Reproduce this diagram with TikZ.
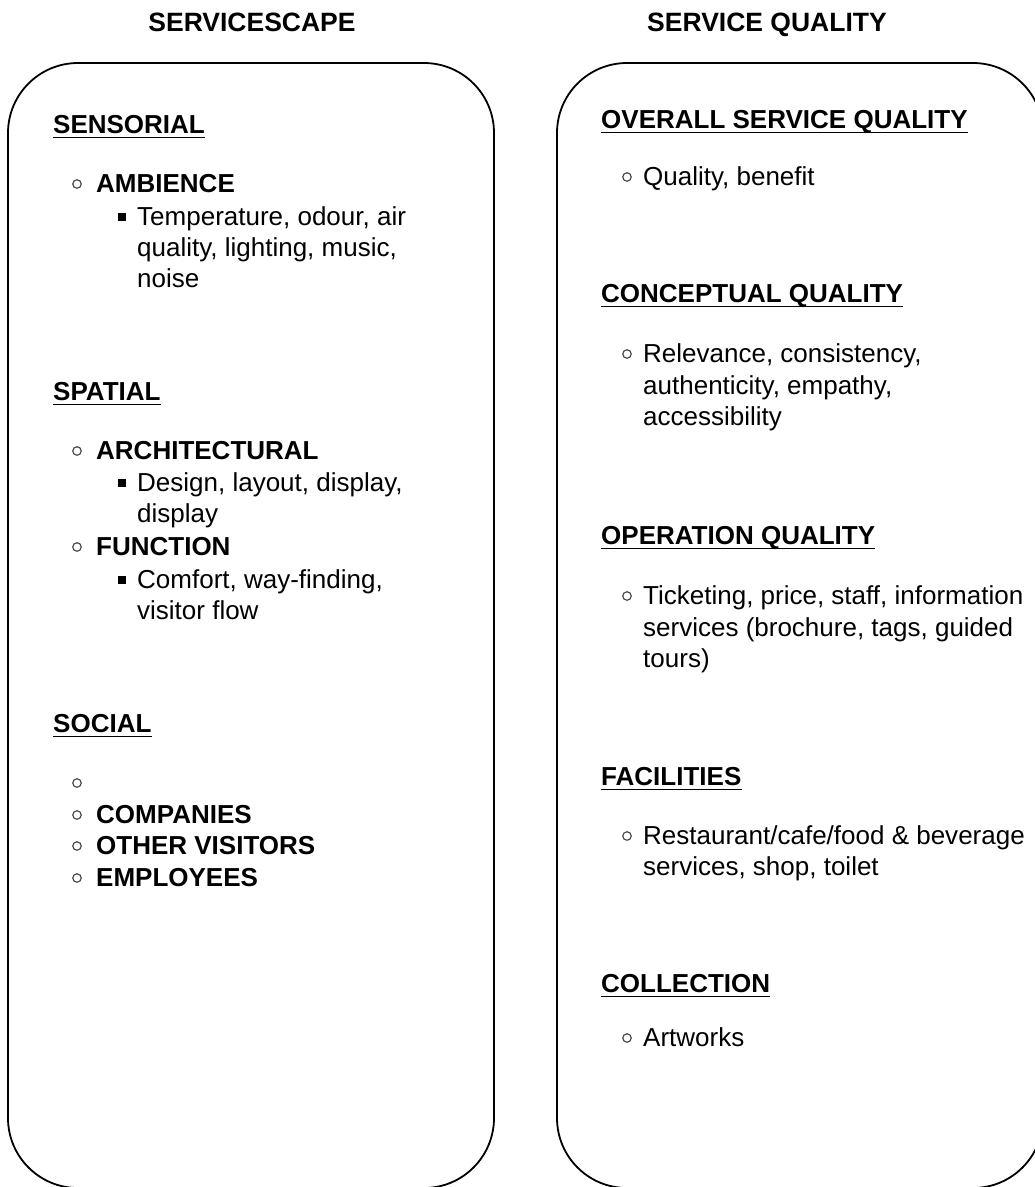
\documentclass[tikz,border=0pt]{standalone}
\usepackage{fontspec}
\setmainfont{Liberation Sans}
\begin{document}
\begin{tikzpicture}[x=1bp,y=-1bp,
  txt/.style={anchor=base west, inner sep=0pt, font=\fontsize{26bp}{31bp}\selectfont, text=black},
  hd/.style={anchor=base west, inner sep=0pt, font=\fontsize{26bp}{31bp}\selectfont\bfseries},
  ttl/.style={anchor=base, inner sep=0pt, font=\fontsize{26.5bp}{31bp}\selectfont\bfseries},
  panel/.style={draw, line width=1.8bp, rounded corners=70bp},
  ring/.style={draw=black!70, line width=1.2bp, circle, minimum size=8.5bp, inner sep=0pt},
  sq/.style={fill=black, minimum size=7.5bp, inner sep=0pt},
  uline/.style={line width=1.7bp}
]
\useasboundingbox (0,0) rectangle (1035,1187);
\clip (0,0) rectangle (1035,1187);

% panels
\draw[panel] (8,63) rectangle (494,1188);
\draw[panel] (557,63) rectangle (1043,1188);

% titles
\node[ttl] (t1) at (252,31) {SERVICESCAPE};
\node[ttl] (t2) at (767,31) {SERVICE QUALITY};

% ---------- left panel ----------
\node[hd] (h1) at (53,133) {SENSORIAL};
\draw[uline] ([yshift=-4.5bp]h1.base west) -- ([yshift=-4.5bp]h1.base east);
\node[ring] (b1) at (77,184) {};
\node[hd] (l1) at (96,192) {AMBIENCE};
\node[sq] (s1) at (122,217) {};
\node[txt] (l2) at (137,225) {Temperature, odour, air};
\node[txt] (l3) at (137,256) {quality, lighting, music,};
\node[txt] (l4) at (137,287) {noise};

\node[hd] (h2) at (53,400) {SPATIAL};
\draw[uline] ([yshift=-4.5bp]h2.base west) -- ([yshift=-4.5bp]h2.base east);
\node[ring] (b2) at (77,451) {};
\node[hd] (l5) at (96,459) {ARCHITECTURAL};
\node[sq] (s2) at (122,483) {};
\node[txt] (l6) at (137,491) {Design, layout, display,};
\node[txt] (l7) at (137,522) {display};
\node[ring] (b3) at (77,547) {};
\node[hd] (l8) at (96,555) {FUNCTION};
\node[sq] (s3) at (122,580) {};
\node[txt] (l9) at (137,588) {Comfort, way-finding,};
\node[txt] (l10) at (137,619) {visitor flow};

\node[hd] (h3) at (53,732) {SOCIAL};
\draw[uline] ([yshift=-4.5bp]h3.base west) -- ([yshift=-4.5bp]h3.base east);
\node[ring] (b4) at (77,783) {};
\node[ring] (b5) at (77,815) {};
\node[hd] (l11) at (96,823) {COMPANIES};
\node[ring] (b6) at (77,846) {};
\node[hd] (l12) at (96,854) {OTHER VISITORS};
\node[ring] (b7) at (77,878) {};
\node[hd] (l13) at (96,886) {EMPLOYEES};

% ---------- right panel ----------
\node[hd] (r1) at (601,128) {OVERALL SERVICE QUALITY};
\draw[uline] ([yshift=-4.5bp]r1.base west) -- ([yshift=-4.5bp]r1.base east);
\node[ring] (c1) at (627,177) {};
\node[txt] (q1) at (643,185) {Quality, benefit};

\node[hd] (r2) at (601,302) {CONCEPTUAL QUALITY};
\draw[uline] ([yshift=-4.5bp]r2.base west) -- ([yshift=-4.5bp]r2.base east);
\node[ring] (c2) at (627,354) {};
\node[txt] (q2) at (643,362) {Relevance, consistency,};
\node[txt] (q3) at (643,394) {authenticity, empathy,};
\node[txt] (q4) at (643,425) {accessibility};

\node[hd] (r3) at (601,544) {OPERATION QUALITY};
\draw[uline] ([yshift=-4.5bp]r3.base west) -- ([yshift=-4.5bp]r3.base east);
\node[ring] (c3) at (627,596) {};
\node[txt] (q5) at (643,604) {Ticketing, price, staff, information};
\node[txt] (q6) at (643,636) {services (brochure, tags, guided};
\node[txt] (q7) at (643,667) {tours)};

\node[hd] (r4) at (601,785) {FACILITIES};
\draw[uline] ([yshift=-4.5bp]r4.base west) -- ([yshift=-4.5bp]r4.base east);
\node[ring] (c4) at (627,836) {};
\node[txt] (q8) at (643,844) {Restaurant/cafe/food \& beverage};
\node[txt] (q9) at (643,875) {services, shop, toilet};

\node[hd] (r5) at (601,992) {COLLECTION};
\draw[uline] ([yshift=-4.5bp]r5.base west) -- ([yshift=-4.5bp]r5.base east);
\node[ring] (c5) at (627,1038) {};
\node[txt] (q10) at (643,1046) {Artworks};
\end{tikzpicture}
\end{document}
